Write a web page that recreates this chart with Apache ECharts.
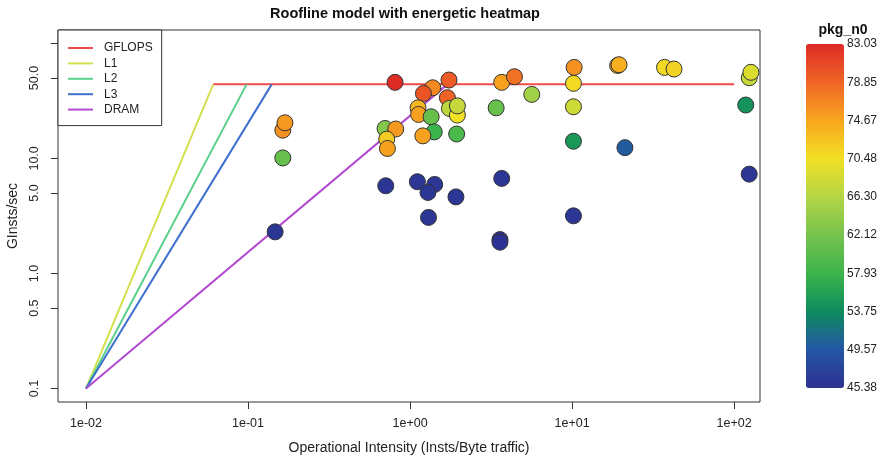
<!DOCTYPE html>
<html><head><meta charset="utf-8">
<script src="https://cdn.jsdelivr.net/npm/echarts@6/dist/echarts.min.js"></script>
<style>html,body{margin:0;padding:0;background:#fff}#c{width:881px;height:461px}</style>
</head><body><div id="c"></div>
<script>
// ---- data ----
const opIntensity = [0.164, 0.169, 0.164, 0.147, 0.808, 1.38, 1.21, 1.74, 1.70, 1.12, 1.13, 1.35, 1.75, 1.96, 1.96, 0.701, 0.816, 0.718, 0.725, 1.41, 1.20, 1.94, 0.708, 1.11, 1.42, 1.29, 1.92, 1.30, 3.68, 3.59, 3.59, 3.68, 4.41, 5.64, 3.40, 10.3, 10.2, 10.2, 10.2, 10.2, 19.1, 19.5, 21.2, 37.2, 42.6, 124, 127, 118, 124];
const ginsts      = [17.6, 20.4, 10.1, 2.30, 45.8, 41.1, 36.7, 48.0, 33.7, 27.5, 24.1, 23.0, 27.2, 23.8, 28.6, 18.2, 18.0, 14.7, 12.2, 17.0, 15.7, 16.3, 5.78, 6.27, 5.94, 5.06, 4.63, 3.07, 6.70, 1.97, 1.87, 45.8, 51.3, 36.0, 27.5, 61.8, 44.9, 28.1, 14.1, 3.17, 64.2, 65.2, 12.4, 61.8, 59.8, 50.2, 56.0, 29.1, 7.30];
const pkgN0       = [76.0, 75.5, 61.0, 46.0, 83.03, 76.5, 80.0, 79.5, 79.0, 73.5, 75.0, 61.0, 67.0, 70.5, 67.5, 63.0, 75.5, 72.0, 75.0, 58.0, 75.0, 59.0, 46.0, 46.0, 46.0, 46.0, 46.0, 46.0, 46.0, 45.5, 45.38, 75.0, 78.0, 65.0, 61.0, 76.0, 71.0, 68.0, 55.0, 46.0, 74.5, 74.0, 50.0, 71.0, 71.5, 67.5, 69.0, 54.5, 46.0];

const rooflineNames = ['GFLOPS', 'L1', 'L2', 'L3', 'DRAM'];
const rooflineX = [[0.061, 100], [0.01, 0.061], [0.01, 0.098], [0.01, 0.14], [0.01, 1.7]];
const rooflineY = [[44, 44], [0.1, 44], [0.1, 44], [0.1, 44], [0.1, 44]];

const xTicks = [0.01, 0.1, 1, 10, 100];
const xTickLabels = ['1e-02', '1e-01', '1e+00', '1e+01', '1e+02'];
const yTicks = [0.1, 0.5, 1, 5, 10, 50, 100];
const yTickLabels = ['0.1', '0.5', '1.0', '5.0', '10.0', '50.0', ''];
const colorTicks = [45.38, 49.57, 53.75, 57.93, 62.12, 66.30, 70.48, 74.67, 78.85, 83.03];

// ---- chart ----
const FONT = 'Liberation Sans, Arial, Helvetica, sans-serif';
const lineColors = ['#f04a4a', '#d2e04e', '#5ad08a', '#3f6fce', '#b24ad0'];
function lookup(v, ticks, labels) {
  for (let i = 0; i < ticks.length; i++) {
    if (Math.abs(Math.log10(v) - Math.log10(ticks[i])) < 1e-6) return labels[i];
  }
  return '';
}

const chart = echarts.init(document.getElementById('c'), null, {renderer: 'canvas'});
const series = rooflineNames.map((n, i) => ({
  name: n, type: 'line', xAxisIndex: 0, yAxisIndex: 0,
  data: rooflineX[i].map((x, j) => [x, rooflineY[i][j]]),
  symbol: 'none', lineStyle: {color: lineColors[i], width: 2}, itemStyle: {color: lineColors[i]},
  silent: true, z: 2
}));
series.push({
  type: 'scatter', xAxisIndex: 0, yAxisIndex: 0, z: 3,
  data: opIntensity.map((x, i) => [x, ginsts[i], pkgN0[i]]),
  symbolSize: 16,
  itemStyle: {borderColor: '#333', borderWidth: 1, opacity: 1}
});

chart.setOption({
  animation: false,
  textStyle: {fontFamily: FONT},
  title: [
    {text: 'Roofline model with energetic heatmap', left: 400, top: 1, textAlign: 'center',
     textStyle: {fontSize: 14.5, fontWeight: 'bold', color: '#111', fontFamily: FONT}},
    {text: 'pkg_n0', left: 838, top: 18, textAlign: 'center',
     textStyle: {fontSize: 14, fontWeight: 'bold', color: '#111', fontFamily: FONT}}
  ],
  legend: {
    data: rooflineNames, orient: 'vertical', left: 58, top: 30,
    icon: 'rect', itemWidth: 25, itemHeight: 2, itemGap: 3.4,
    padding: [12, 9, 10, 10], borderColor: '#333', borderWidth: 1, backgroundColor: '#fff',
    textStyle: {fontSize: 12, color: '#222', fontFamily: FONT, padding: [0, 0, 0, 6]},
    selectedMode: false
  },
  grid: [
    {left: 58, right: 121, top: 30, bottom: 59, show: true, borderColor: '#333', borderWidth: 1,
     containLabel: false, outerBoundsMode: 'none'},
    {left: 806, top: 44, width: 38, height: 344, show: false, containLabel: false, outerBoundsMode: 'none'}
  ],
  xAxis: [
    {type: 'log', logBase: 10, gridIndex: 0, min: 0.00672, max: 144.5,
     name: 'Operational Intensity (Insts/Byte traffic)', nameLocation: 'middle', nameGap: 39,
     nameTextStyle: {fontSize: 14, color: '#222', fontFamily: FONT},
     axisLine: {show: false}, splitLine: {show: false},
     axisTick: {show: true, length: 7, lineStyle: {color: '#333'}, customValues: xTicks},
     axisLabel: {fontSize: 12.5, color: '#222', margin: 15, customValues: xTicks,
       formatter: v => lookup(v, xTicks, xTickLabels)}},
    {type: 'value', gridIndex: 1, show: false, min: 0, max: 1}
  ],
  yAxis: [
    {type: 'log', logBase: 10, gridIndex: 0, min: 0.0764, max: 130.6,
     name: 'GInsts/sec', nameLocation: 'middle', nameGap: 33,
     nameTextStyle: {fontSize: 14, color: '#222', fontFamily: FONT},
     axisLine: {show: false}, splitLine: {show: false},
     axisTick: {show: true, length: 7, lineStyle: {color: '#333'}, customValues: yTicks},
     axisLabel: {fontSize: 12.5, color: '#222', margin: 17, rotate: 90, customValues: yTicks.slice(0, 6),
       formatter: v => lookup(v, yTicks, yTickLabels)}},
    {type: 'value', gridIndex: 1, position: 'right', min: 45.38, max: 83.03,
     axisLine: {show: false}, axisTick: {show: false}, splitLine: {show: false},
     axisLabel: {fontSize: 12, color: '#222', margin: 3, customValues: colorTicks,
       formatter: v => v.toFixed(2)}}
  ],
  visualMap: {
    type: 'continuous', min: 45.38, max: 83.03, dimension: 2, seriesIndex: 5,
    left: 806, top: 44, itemWidth: 38, itemHeight: 344, padding: 0,
    calculable: false, hoverLink: false, text: null, showLabel: false,
    inRange: {color: ['#2d3191', '#2456a6', '#0d8b5e', '#3cb44b', '#76c34d', '#b3d645', '#f1e024', '#f8a61e', '#ef6526', '#df2b26']}
  },
  series: series
});
</script></body></html>
